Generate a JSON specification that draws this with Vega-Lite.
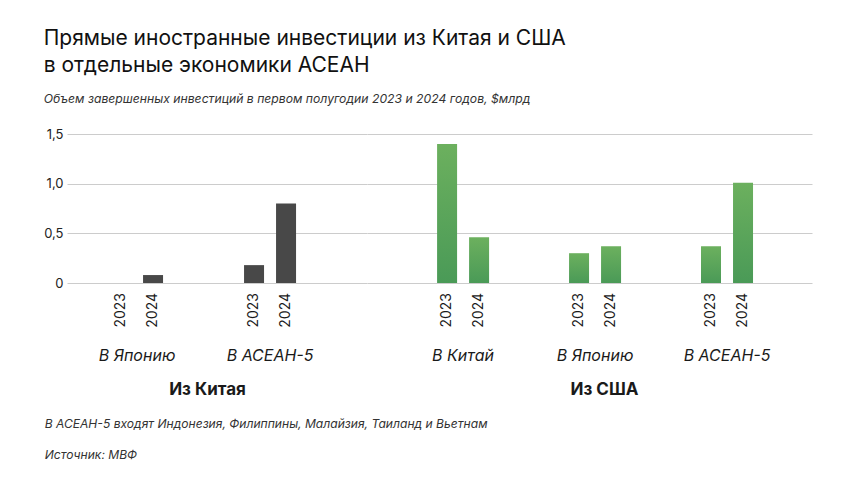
{
  "$schema": "https://vega.github.io/schema/vega-lite/v6.json",
  "background": "white",
  "padding": {"left": 43, "top": 27, "right": 8, "bottom": 10},
  "bounds": "flush",
  "title": {
    "text": ["Прямые иностранные инвестиции из Китая и США", "в отдельные экономики АСЕАН"],
    "subtitle": "Объем завершенных инвестиций в первом полугодии 2023 и 2024 годов, $млрд",
    "anchor": "start",
    "frame": "bounds",
    "dx": 0,
    "font": "Inter",
    "fontSize": 21,
    "fontWeight": 400,
    "lineHeight": 27,
    "color": "#111111",
    "subtitleFont": "Inter",
    "subtitleFontSize": 12.2,
    "subtitleFontStyle": "italic",
    "subtitleColor": "#333333",
    "subtitlePadding": 17,
    "offset": 23
  },
  "datasets": {
    "d": [
      {"source": "Из Китая", "dest": "В Японию", "year": "2023", "value": 0},
      {"source": "Из Китая", "dest": "В Японию", "year": "2024", "value": 0.08},
      {"source": "Из Китая", "dest": "В АСЕАН-5", "year": "2023", "value": 0.18},
      {"source": "Из Китая", "dest": "В АСЕАН-5", "year": "2024", "value": 0.80},
      {"source": "Из США", "dest": "В Китай", "year": "2023", "value": 1.40},
      {"source": "Из США", "dest": "В Китай", "year": "2024", "value": 0.46},
      {"source": "Из США", "dest": "В Японию", "year": "2023", "value": 0.30},
      {"source": "Из США", "dest": "В Японию", "year": "2024", "value": 0.37},
      {"source": "Из США", "dest": "В АСЕАН-5", "year": "2023", "value": 0.37},
      {"source": "Из США", "dest": "В АСЕАН-5", "year": "2024", "value": 1.01}
    ]
  },
  "spacing": 0,
  "hconcat": [
    {
      "width": 300,
      "height": 149,
      "data": {"name": "d"},
      "transform": [{"filter": "datum.source === 'Из Китая'"}],
      "title": {
        "text": ["В АСЕАН-5 входят Индонезия, Филиппины, Малайзия, Таиланд и Вьетнам", "Источник: МВФ"],
        "orient": "bottom",
        "anchor": "start",
        "frame": "bounds",
        "dx": 1,
        "font": "Inter",
        "fontSize": 12.1,
        "fontStyle": "italic",
        "fontWeight": 400,
        "color": "#333333",
        "lineHeight": 31,
        "offset": 21
      },
      "encoding": {
        "x": {
          "field": "dest",
          "type": "nominal",
          "sort": ["В Японию", "В АСЕАН-5"],
          "scale": {"paddingInner": 0.609, "paddingOuter": 0.4323, "align": 0.383},
          "axis": {
            "title": "Из Китая",
            "titleX": 140,
            "labelAngle": 0,
            "labelPadding": 64,
            "domain": false,
            "ticks": false,
            "labelFont": "Inter",
            "labelFontSize": 16,
            "labelFontStyle": "italic",
            "labelColor": "#1a1a1a",
            "titleFont": "Inter",
            "titleFontSize": 17,
            "titleFontWeight": 700,
            "titleColor": "#1a1a1a",
            "titlePadding": 18
          }
        },
        "xOffset": {"field": "year", "type": "nominal", "scale": {"paddingInner": 0.375, "paddingOuter": 0}}
      },
      "layer": [
        {
          "mark": {"type": "bar", "color": "#484848"},
          "encoding": {
            "y": {
              "field": "value",
              "type": "quantitative",
              "scale": {"domain": [0, 1.5], "nice": false},
              "axis": {
                "title": null,
                "values": [0, 0.5, 1, 1.5],
                "labelExpr": "datum.value == 0 ? '0' : replace(format(datum.value, '.1f'), '.', ',')",
                "domain": false,
                "ticks": false,
                "grid": true,
                "gridColor": "#cccccc",
                "labelFont": "Inter",
                "labelFontSize": 13,
                "labelColor": "#222222",
                "labelPadding": 4
              }
            }
          }
        },
        {
          "mark": {"type": "text", "angle": 270, "align": "right", "baseline": "middle", "dx": -10, "font": "Inter", "fontSize": 14, "color": "#1a1a1a"},
          "encoding": {
            "y": {"datum": 0},
            "text": {"field": "year"}
          }
        }
      ]
    },
    {
      "width": 445,
      "height": 149,
      "data": {"name": "d"},
      "transform": [{"filter": "datum.source === 'Из США'"}],
      "encoding": {
        "x": {
          "field": "dest",
          "type": "nominal",
          "sort": ["В Китай", "В Японию", "В АСЕАН-5"],
          "scale": {"paddingInner": 0.606, "paddingOuter": 0.489, "align": 0.543},
          "axis": {
            "title": "Из США",
            "titleX": 237,
            "labelAngle": 0,
            "labelPadding": 64,
            "domain": false,
            "ticks": false,
            "labelFont": "Inter",
            "labelFontSize": 16,
            "labelFontStyle": "italic",
            "labelColor": "#1a1a1a",
            "titleFont": "Inter",
            "titleFontSize": 17,
            "titleFontWeight": 700,
            "titleColor": "#1a1a1a",
            "titlePadding": 18
          }
        },
        "xOffset": {"field": "year", "type": "nominal", "scale": {"paddingInner": 0.375, "paddingOuter": 0}}
      },
      "layer": [
        {
          "mark": {
            "type": "bar",
            "color": {
              "gradient": "linear",
              "x1": 0, "y1": 0, "x2": 0, "y2": 1,
              "stops": [
                {"offset": 0, "color": "#6cb05e"},
                {"offset": 1, "color": "#4a9a57"}
              ]
            }
          },
          "encoding": {
            "y": {
              "field": "value",
              "type": "quantitative",
              "scale": {"domain": [0, 1.5], "nice": false},
              "axis": {
                "title": null,
                "values": [0, 0.5, 1, 1.5],
                "labels": false,
                "domain": false,
                "ticks": false,
                "grid": true,
                "gridColor": "#cccccc",
                "minExtent": 0,
                "maxExtent": 0
              }
            }
          }
        },
        {
          "mark": {"type": "text", "angle": 270, "align": "right", "baseline": "middle", "dx": -10, "font": "Inter", "fontSize": 14, "color": "#1a1a1a"},
          "encoding": {
            "y": {"datum": 0},
            "text": {"field": "year"}
          }
        }
      ]
    }
  ],
  "config": {
    "view": {"stroke": null}
  }
}
